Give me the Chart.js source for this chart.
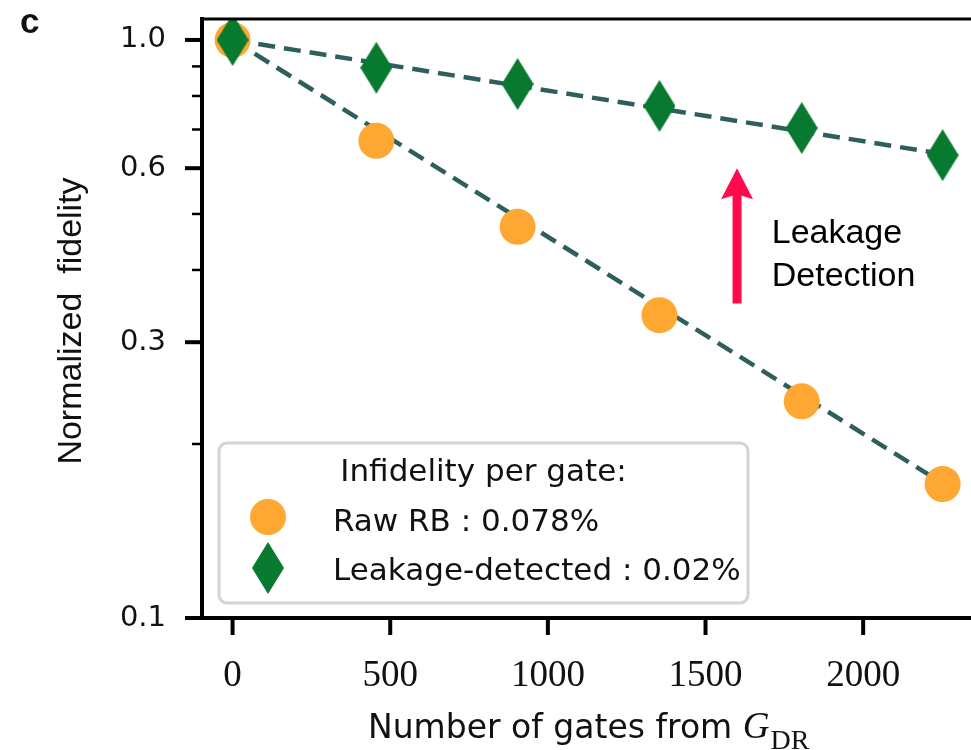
<!DOCTYPE html>
<html lang="en">
<head>
<meta charset="UTF-8" />
<title>Normalized fidelity vs gates</title>
<script src="https://cdn.jsdelivr.net/npm/chart.js"></script>
<style>
  html, body { margin: 0; padding: 0; background: #fff; overflow: hidden; }
  #wrap { width: 971px; height: 750px; position: relative; }
</style>
</head>
<body>
<div id="wrap"><canvas id="rbChart" width="971" height="750"></canvas></div>
<script>
  // data
  const gates = [0, 456, 904, 1354, 1805, 2252];
  const rawRB = [1.0, 0.669, 0.475, 0.334, 0.237, 0.1705];
  const leakDetected = [1.0, 0.895, 0.839, 0.769, 0.704, 0.632];
  const fitGates = [0, 2252];
  const rawFit = [1.0, 0.171];
  const leakFit = [1.0, 0.635];

  const xTicks = [0, 500, 1000, 1500, 2000];
  const yMajorTicks = [1.0, 0.6, 0.3, 0.1];
  const yMinorTicks = [0.9, 0.8, 0.7, 0.5, 0.4, 0.2];

  const legendTitle = "Infidelity per gate:";
  const legendLabels = ["Raw RB : 0.078%", "Leakage-detected : 0.02%"];
  const arrowGate = 1600, arrowFrom = 0.35, arrowTo = 0.6;
  const noteLines = ["Leakage", "Detection"];

  const ORANGE = "#ffa733";
  const GREEN = "#087a30";
  const FIT = "#2f5f5d";

  function makeDiamond(w, h, color) {
    const c = document.createElement("canvas");
    c.width = w; c.height = h;
    const g = c.getContext("2d");
    g.fillStyle = color;
    g.beginPath();
    g.moveTo(w / 2, 0); g.lineTo(w, h / 2); g.lineTo(w / 2, h); g.lineTo(0, h / 2);
    g.closePath();
    g.fill();
    return c;
  }
  const diamond = makeDiamond(32, 52, GREEN);

  const pts = (xs, ys) => xs.map((x, i) => ({ x: x, y: ys[i] }));

  // axes ticks, spines, legend and annotations
  const extras = {
    id: "extras",
    afterDatasetsDraw(chart) {
      const ctx = chart.ctx;
      const a = chart.chartArea;
      const xs = chart.scales.x, ys = chart.scales.y;
      ctx.save();
      ctx.strokeStyle = "#000";
      ctx.lineCap = "butt";

      // top spine
      ctx.lineWidth = 3;
      ctx.beginPath(); ctx.moveTo(a.left - 2, a.top); ctx.lineTo(a.right, a.top); ctx.stroke();

      // y ticks
      ctx.lineWidth = 4;
      yMajorTicks.forEach(v => {
        const y = ys.getPixelForValue(v);
        ctx.beginPath(); ctx.moveTo(a.left - 17, y); ctx.lineTo(a.left, y); ctx.stroke();
      });
      ctx.lineWidth = 2.5;
      yMinorTicks.forEach(v => {
        const y = ys.getPixelForValue(v);
        ctx.beginPath(); ctx.moveTo(a.left - 10, y); ctx.lineTo(a.left, y); ctx.stroke();
      });
      // x ticks
      ctx.lineWidth = 4;
      xTicks.forEach(v => {
        const x = xs.getPixelForValue(v);
        ctx.beginPath(); ctx.moveTo(x, a.bottom); ctx.lineTo(x, a.bottom + 17); ctx.stroke();
      });

      // arrow
      const ax = xs.getPixelForValue(arrowGate);
      const y0 = ys.getPixelForValue(arrowFrom), y1 = ys.getPixelForValue(arrowTo);
      ctx.fillStyle = "#ff0a4c";
      ctx.fillRect(ax - 4.5, y1 + 25, 9, y0 - y1 - 25);
      ctx.beginPath();
      ctx.moveTo(ax, y1); ctx.lineTo(ax + 16, y1 + 31); ctx.lineTo(ax, y1 + 26); ctx.lineTo(ax - 16, y1 + 31);
      ctx.closePath(); ctx.fill();

      // note text
      ctx.fillStyle = "#000";
      ctx.font = "34px 'Liberation Sans', Arial, sans-serif";
      ctx.textAlign = "left";
      ctx.textBaseline = "alphabetic";
      const nx = xs.getPixelForValue(1710);
      ctx.fillText(noteLines[0], nx, 243);
      ctx.fillText(noteLines[1], nx, 286);

      // legend box
      const bx = 219, by = 443, bw = 529, bh = 160, r = 8;
      ctx.beginPath();
      ctx.moveTo(bx + r, by);
      ctx.arcTo(bx + bw, by, bx + bw, by + bh, r);
      ctx.arcTo(bx + bw, by + bh, bx, by + bh, r);
      ctx.arcTo(bx, by + bh, bx, by, r);
      ctx.arcTo(bx, by, bx + bw, by, r);
      ctx.closePath();
      ctx.fillStyle = "rgba(255,255,255,0.8)";
      ctx.fill();
      ctx.strokeStyle = "#d4d4d4";
      ctx.lineWidth = 3;
      ctx.stroke();

      ctx.fillStyle = "#111";
      ctx.font = "31px 'DejaVu Sans', sans-serif";
      ctx.textAlign = "center";
      ctx.fillText(legendTitle, bx + bw / 2, 481);
      ctx.textAlign = "left";
      ctx.fillText(legendLabels[0], 333, 531);
      ctx.fillText(legendLabels[1], 333, 580);

      ctx.fillStyle = ORANGE;
      ctx.beginPath(); ctx.arc(268, 517, 18, 0, Math.PI * 2); ctx.fill();
      ctx.drawImage(diamond, 268 - diamond.width / 2, 568 - diamond.height / 2);
      ctx.restore();
    },
    afterDraw(chart) {
      const ctx = chart.ctx;
      ctx.save();
      ctx.fillStyle = "#111";
      ctx.textBaseline = "alphabetic";

      // panel letter
      ctx.font = "bold 35px 'Liberation Sans', Arial, sans-serif";
      ctx.textAlign = "left";
      ctx.fillText("c", 20, 33);

      // y title
      ctx.save();
      ctx.translate(81, 321);
      ctx.rotate(-Math.PI / 2);
      ctx.textAlign = "center";
      ctx.font = "34px 'Liberation Sans', Arial, sans-serif";
      ctx.fillText("Normalized  fidelity", 0, 0);
      ctx.restore();

      // x title with G_DR
      ctx.font = "33px 'DejaVu Sans', sans-serif";
      const lead = "Number of gates from ";
      let x = 368;
      ctx.fillText(lead, x, 738);
      x += ctx.measureText(lead).width;
      ctx.font = "italic 37px 'Liberation Serif', serif";
      ctx.fillText("G", x, 738);
      x += ctx.measureText("G").width + 1;
      ctx.font = "28px 'Liberation Serif', serif";
      ctx.fillText("DR", x, 749);
      ctx.restore();
    }
  };

  new Chart(document.getElementById("rbChart"), {
    type: "scatter",
    data: {
      datasets: [
        {
          label: legendLabels[1],
          data: pts(gates, leakDetected),
          pointStyle: diamond,
          pointRadius: 26,
          backgroundColor: GREEN,
          borderWidth: 0,
          order: 1
        },
        {
          label: legendLabels[0],
          data: pts(gates, rawRB),
          pointStyle: "circle",
          pointRadius: 18,
          backgroundColor: ORANGE,
          borderWidth: 0,
          order: 2
        },
        {
          label: "leak fit",
          data: pts(fitGates, leakFit),
          showLine: true,
          pointRadius: 0,
          borderColor: FIT,
          borderWidth: 4.5,
          borderDash: [17, 9],
          order: 3
        },
        {
          label: "raw fit",
          data: pts(fitGates, rawFit),
          showLine: true,
          pointRadius: 0,
          borderColor: FIT,
          borderWidth: 4.5,
          borderDash: [17, 9],
          order: 4
        }
      ]
    },
    options: {
      responsive: false,
      devicePixelRatio: 1,
      animation: false,
      layout: { autoPadding: false, padding: { top: 19, left: 0, right: 0, bottom: 0 } },
      plugins: { legend: { display: false }, tooltip: { enabled: false } },
      scales: {
        x: {
          type: "linear",
          min: -97,
          max: 2342,
          grid: { display: false, drawTicks: false },
          border: { display: true, color: "#000", width: 4 },
          afterBuildTicks: s => { s.ticks = xTicks.map(v => ({ value: v })); },
          afterFit: s => { s.height = 132; s.paddingLeft = 0; s.paddingRight = 0; },
          ticks: {
            autoSkip: false,
            maxRotation: 0,
            padding: 36,
            color: "#111",
            font: { family: "'Liberation Serif', serif", size: 37 },
            callback: v => String(v)
          }
        },
        y: {
          type: "logarithmic",
          min: 0.1,
          max: 1.087,
          grid: { display: false, drawTicks: false },
          border: { display: true, color: "#000", width: 4 },
          afterBuildTicks: s => { s.ticks = yMajorTicks.map(v => ({ value: v })); },
          afterFit: s => { s.width = 202; s.paddingTop = 0; s.paddingBottom = 0; },
          ticks: {
            autoSkip: false,
            padding: 36,
            color: "#111",
            font: { family: "'DejaVu Sans', sans-serif", size: 29 },
            callback: v => Number(v).toFixed(1)
          }
        }
      }
    },
    plugins: [extras]
  });
</script>
</body>
</html>
